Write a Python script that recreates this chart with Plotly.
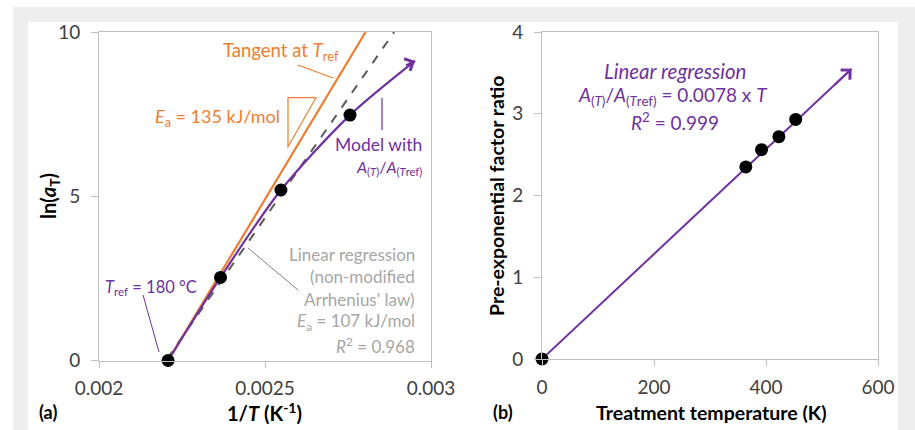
import plotly.graph_objects as go

W, H = 915, 430

# ---------------- data ----------------
# Panel (a)
inv_T_points = [0.002208, 0.002366, 0.002548, 0.002756]
ln_aT_points = [0.0, 2.53, 5.19, 7.47]

model_inv_T = [0.002208, 0.002366, 0.002548, 0.002756, 0.002952]
model_ln_aT = [0.0, 2.53, 5.19, 7.47, 9.12]

tangent_inv_T = [0.002208, 0.002803]
tangent_ln_aT = [0.0, 10.0]

regr_inv_T = [0.002205, 0.002889]
regr_ln_aT = [0.05, 10.0]

a_xticks = [0.002, 0.0025, 0.003]
a_xticklabels = ["0.002", "0.0025", "0.003"]
a_yticks = [0, 5, 10]
a_yticklabels = ["0", "5", "10"]

# Panel (b)
treat_T = [0, 364, 392, 423, 453]
ratio = [0.0, 2.35, 2.56, 2.72, 2.93]

fit_T = [0, 553]
fit_ratio = [0.0, 3.55]

b_xticks = [0, 200, 400, 600]
b_xticklabels = ["0", "200", "400", "600"]
b_yticks = [0, 1, 2, 3, 4]
b_yticklabels = ["0", "1", "2", "3", "4"]

# ---------------- style ----------------
FONT = "Lato"
ORANGE = "#ED7D31"
PURPLE = "#7030A0"
GRAYTXT = "#A6A6A6"
DASH = "#595959"
AXIS = "#BFBFBF"
TICKTXT = "#404040"


def px(x):
    return x / W


def py(y):
    return 1 - y / H


fig = go.Figure()

# Panel (a) traces
fig.add_trace(go.Scatter(x=regr_inv_T, y=regr_ln_aT, mode="lines",
                         line=dict(color=DASH, width=2, dash="dash"),
                         xaxis="x", yaxis="y", showlegend=False, hoverinfo="skip"))
fig.add_trace(go.Scatter(x=tangent_inv_T, y=tangent_ln_aT, mode="lines",
                         line=dict(color=ORANGE, width=2.2),
                         xaxis="x", yaxis="y", showlegend=False, hoverinfo="skip"))
fig.add_trace(go.Scatter(x=model_inv_T, y=model_ln_aT, mode="lines",
                         line=dict(color=PURPLE, width=2.2, shape="spline", smoothing=0.8),
                         xaxis="x", yaxis="y", showlegend=False, hoverinfo="skip"))
fig.add_trace(go.Scatter(x=inv_T_points, y=ln_aT_points, mode="markers",
                         marker=dict(color="black", size=13),
                         cliponaxis=False,
                         xaxis="x", yaxis="y", showlegend=False))

# Panel (b) traces
fig.add_trace(go.Scatter(x=fit_T, y=fit_ratio, mode="lines",
                         line=dict(color=PURPLE, width=2),
                         xaxis="x2", yaxis="y2", showlegend=False, hoverinfo="skip"))
fig.add_trace(go.Scatter(x=treat_T, y=ratio, mode="markers",
                         marker=dict(color="black", size=13),
                         cliponaxis=False,
                         xaxis="x2", yaxis="y2", showlegend=False))

axis_common = dict(showline=True, linecolor=AXIS, linewidth=1, mirror=True,
                   ticks="outside", tickcolor=AXIS, tickwidth=1,
                   showgrid=False, zeroline=False, automargin=False, fixedrange=True,
                   tickfont=dict(family=FONT, size=19, color=TICKTXT))
xaxis_common = dict(ticklen=6, ticklabelstandoff=5, **axis_common)
yaxis_common = dict(ticklen=7, ticklabelstandoff=7, **axis_common)

fig.update_layout(
    template="none",
    width=W, height=H,
    margin=dict(l=0, r=0, t=0, b=0, pad=0, autoexpand=False),
    paper_bgcolor="white", plot_bgcolor="white",
    font=dict(family=FONT),
    xaxis=dict(domain=[px(99), px(431)], range=[0.002, 0.003],
               tickvals=a_xticks, ticktext=a_xticklabels, anchor="y", **xaxis_common),
    yaxis=dict(domain=[py(360.5), py(32)], range=[0, 10],
               tickvals=a_yticks, ticktext=a_yticklabels, anchor="x", **yaxis_common),
    xaxis2=dict(domain=[px(542), px(878)], range=[0, 600],
                tickvals=b_xticks, ticktext=b_xticklabels, anchor="y2", **xaxis_common),
    yaxis2=dict(domain=[py(359), py(32)], range=[0, 4],
                tickvals=b_yticks, ticktext=b_yticklabels, anchor="x2", **yaxis_common),
)

shapes = []
# background frame
shapes.append(dict(type="rect", xref="paper", yref="paper", layer="below",
                   x0=px(13), x1=px(915), y0=py(430), y1=py(7),
                   fillcolor="#EEEEEE", line=dict(width=0)))
shapes.append(dict(type="rect", xref="paper", yref="paper", layer="below",
                   x0=px(28), x1=px(898), y0=py(430), y1=py(22),
                   fillcolor="white", line=dict(width=0)))


def seg(x0, y0, x1, y1, color, width=1):
    shapes.append(dict(type="line", xref="paper", yref="paper",
                       x0=px(x0), y0=py(y0), x1=px(x1), y1=py(y1),
                       line=dict(color=color, width=width)))


seg(298, 65, 333, 78, ORANGE, 1.2)        # tangent pointer
seg(382, 98, 382, 130, PURPLE, 1.2)        # model pointer
seg(248, 248, 298, 290, "#7F7F7F", 1)      # regression pointer
seg(143, 295, 159, 352, PURPLE, 1)         # Tref pointer
# slope triangle
shapes.append(dict(type="path", xref="paper", yref="paper",
                   path=f"M {px(288)},{py(97.7)} L {px(316)},{py(97.7)} L {px(288)},{py(146.7)} Z",
                   line=dict(color=ORANGE, width=1.2)))
fig.update_layout(shapes=shapes)

ann = []


def txt(x, y, text, color, size=17, xanchor="center"):
    ann.append(dict(x=px(x), y=py(y), xref="paper", yref="paper", text=text,
                    showarrow=False, xanchor=xanchor, yanchor="middle",
                    font=dict(family=FONT, size=size, color=color)))


txt(281, 52, "Tangent at <i>T</i><sub>ref</sub>", ORANGE, 18.5)
txt(282, 118, "<i>E</i><sub>a</sub> = 135 kJ/mol", ORANGE, 18, xanchor="right")
txt(424, 144, "Model with", PURPLE, 17.5, xanchor="right")
txt(424, 168, "<i>A</i><sub>(<i>T</i>)</sub>/<i>A</i><sub>(<i>T</i>ref)</sub>", PURPLE, 16, xanchor="right")
gray_lines = ["Linear regression", "(non-modified", "Arrhenius' law)",
              "<i>E</i><sub>a</sub> = 107 kJ/mol", "<i>R</i><sup>2</sup> = 0.968"]
for i, t in enumerate(gray_lines):
    txt(417, 254 + i * 22.8, t, GRAYTXT, 17, xanchor="right")
txt(151, 287, "<i>T</i><sub>ref</sub> = 180 °C", PURPLE, 16.5)

txt(675, 71, "<i>Linear regression</i>", PURPLE, 20.5)
txt(673, 96, "<i>A</i><sub>(<i>T</i>)</sub>/<i>A</i><sub>(<i>T</i>ref)</sub> = 0.0078 x <i>T</i>", PURPLE, 19)
txt(675, 121, "<i>R</i><sup>2</sup> = 0.999", PURPLE, 19)

# panel labels and axis titles
txt(37, 412, "<b>(a)</b>", "black", 18, xanchor="left")
txt(491, 412, "<b>(b)</b>", "black", 18, xanchor="left")
txt(264, 412, "<b>1/<i>T</i> (K<sup>-1</sup>)</b>", "black", 20)
txt(711, 412, "<b>Treatment temperature (K)</b>", "black", 19.5)

ann.append(dict(x=px(50), y=py(196), xref="paper", yref="paper",
                text="<b>ln(<i>a</i><sub>T</sub>)</b>", showarrow=False,
                textangle=-90, xanchor="center", yanchor="middle",
                font=dict(family=FONT, size=20, color="black")))
ann.append(dict(x=px(497), y=py(196), xref="paper", yref="paper",
                text="<b>Pre-exponential factor ratio</b>", showarrow=False,
                textangle=-90, xanchor="center", yanchor="middle",
                font=dict(family=FONT, size=19.5, color="black")))

# arrowheads at curve ends
ann.append(dict(x=model_inv_T[-1], y=model_ln_aT[-1], xref="x", yref="y",
                ax=0.00292, ay=8.96, axref="x", ayref="y", text="",
                showarrow=True, arrowhead=4, arrowsize=1.3, arrowwidth=2,
                arrowcolor=PURPLE, standoff=0))
ann.append(dict(x=fit_T[-1], y=fit_ratio[-1], xref="x2", yref="y2",
                ax=520, ay=3.337, axref="x2", ayref="y2", text="",
                showarrow=True, arrowhead=4, arrowsize=1.3, arrowwidth=2,
                arrowcolor=PURPLE, standoff=0))

fig.update_layout(annotations=ann)

fig.write_html("out.html", config={"displayModeBar": False},
               post_script="document.body.style.margin='0';document.body.style.overflow='hidden';")
